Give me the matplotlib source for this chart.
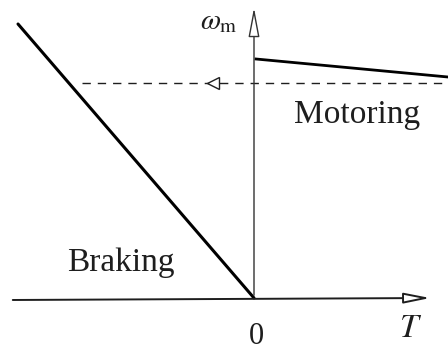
import matplotlib.pyplot as plt

# speed-torque characteristic, units of 100 px on the sketch
braking_T = [-2.36, 0.0]
braking_w = [2.74, 0.0]
motoring_T = [0.02, 1.94]
motoring_w = [2.39, 2.21]
ref_speed = 2.15
ref_T = [-1.72, 1.94]

plt.rcParams['font.family'] = ['Liberation Serif', 'DejaVu Serif']
plt.rcParams['mathtext.fontset'] = 'stix'

fig = plt.figure(figsize=(4.48, 3.53), dpi=100)
ax = fig.add_axes([0, 0, 1, 1])
ax.set_xlim(-2.54, 1.94)
ax.set_ylim(-0.55, 2.98)
ax.axis('off')

ink = '#1e1e1e'

# axes with arrowheads
ax.annotate('', xy=(1.79, 0), xytext=(-2.44, -0.02),
            arrowprops=dict(arrowstyle='-|>,head_length=0.8,head_width=0.16',
                            color=ink, lw=1.4, mutation_scale=20, fc='white'))
ax.annotate('', xy=(0, 2.93), xytext=(0, 0),
            arrowprops=dict(arrowstyle='-|>,head_length=0.9,head_width=0.17',
                            color='#333333', lw=1.0, mutation_scale=20, fc='white'))

ax.plot(braking_T, braking_w, color='black', lw=2.2, solid_capstyle='round')
ax.plot(motoring_T, motoring_w, color='black', lw=2.0)
ax.plot(ref_T, [ref_speed, ref_speed], color=ink, lw=1.0, dashes=(6, 5))
ax.plot([-0.41], [ref_speed], marker='<', ms=8, mfc='white', mec=ink, mew=1.0)

ax.text(-0.35, 2.76, r'$\omega_{\rm m}$', fontsize=21, ha='center', va='center', color=ink)
ax.text(1.03, 1.83, 'Motoring', fontsize=24, ha='center', va='center', color=ink)
ax.text(-1.33, 0.35, 'Braking', fontsize=24, ha='center', va='center', color=ink)
ax.text(0.02, -0.39, '0', fontsize=22, ha='center', va='center', color=ink)
ax.text(1.57, -0.31, '$T$', fontsize=24, ha='center', va='center', color=ink)

fig.savefig('out.png', dpi=100)
